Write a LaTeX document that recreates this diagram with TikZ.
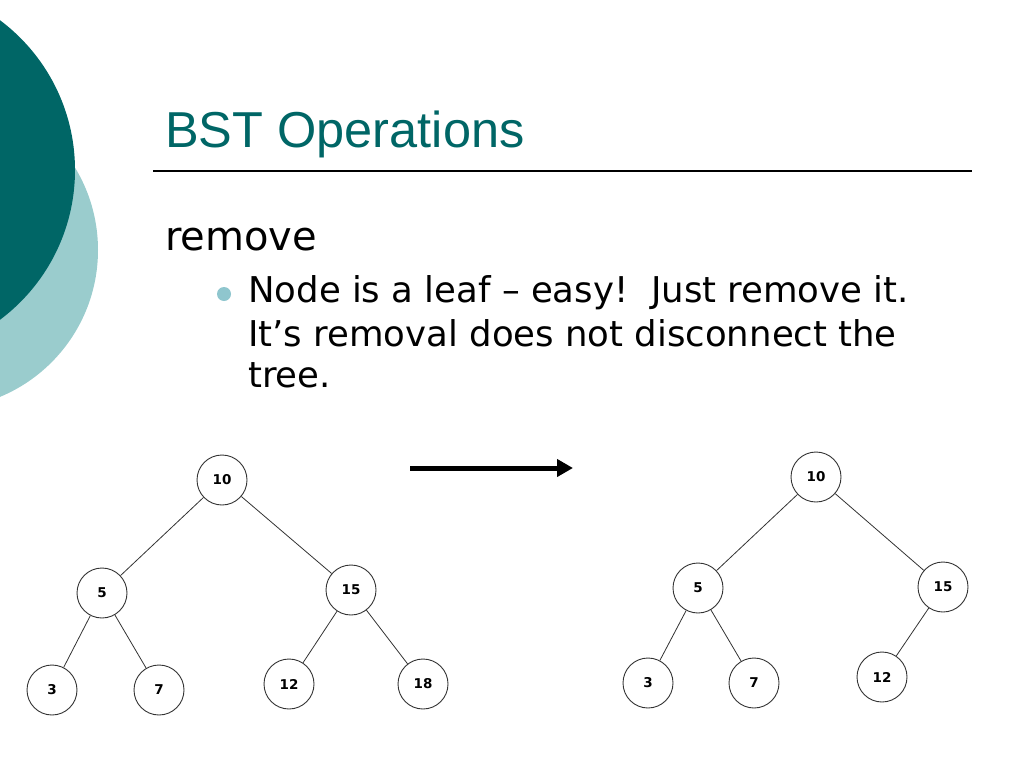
\documentclass[tikz,border=0pt]{standalone}
\usepackage{fontspec}
\setmainfont{DejaVu Sans}
\newfontfamily\titlefont{Liberation Sans}
\usepackage{tikz}
\usetikzlibrary{arrows.meta,positioning}
\definecolor{tealdark}{HTML}{006666}
\definecolor{teallight}{HTML}{9ACCCD}
\definecolor{bulletblue}{HTML}{8FC6CE}
\definecolor{inkgrey}{HTML}{333333}
\tikzset{
  treenode/.style = {circle, draw=inkgrey, line width=0.9pt, minimum size=50pt,
                     inner sep=0pt, font=\fontsize{13.5}{15}\selectfont\bfseries},
  treeedge/.style = {draw=inkgrey, line width=0.8pt},
  bodyline/.style = {anchor=base west, inner sep=0pt, font=\fontsize{35.5}{42}\selectfont},
  bigarrow/.style = {-{Triangle[length=16pt,width=17pt]}, line width=5pt},
}
\begin{document}
\begin{tikzpicture}[x=1pt,y=-1pt]
    \useasboundingbox (0,0) rectangle (1024,768);
    % decoration on the left
    \fill[teallight] (-61,250) circle (159);
    \fill[tealdark] (-112,170) circle (187);
    % heading
    \node[anchor=base west,inner sep=0pt,text=tealdark,font=\titlefont\fontsize{50.5}{60}\selectfont] (title) at (165,147) {BST Operations};
    \draw[line width=1.2pt] (153,171) -- (972,171);
    \node[anchor=base west,inner sep=0pt,font=\fontsize{40}{48}\selectfont] (op) at (165,250) {remove};
    \fill[bulletblue] (224,294) circle (7);
    \node[bodyline] (ln1) at (248,302) {Node is a leaf -- easy!\ \ Just remove it.};
    \node[bodyline] (ln2) at (248,346) {It’s removal does not disconnect the};
    \node[bodyline] (ln3) at (248,387) {tree.};
    % tree before
    \node[treenode] (a10) at (222,480) {10};
    \node[treenode] (a5)  at (102,593) {5};
    \node[treenode] (a15) at (351,590) {15};
    \node[treenode] (a3)  at (52,690)  {3};
    \node[treenode] (a7)  at (159,690) {7};
    \node[treenode] (a12) at (289,684) {12};
    \node[treenode] (a18) at (423,684) {18};
    \draw[treeedge] (a10) -- (a5);  \draw[treeedge] (a10) -- (a15);
    \draw[treeedge] (a5) -- (a3);   \draw[treeedge] (a5) -- (a7);
    \draw[treeedge] (a15) -- (a12); \draw[treeedge] (a15) -- (a18);
    % arrow between
    \coordinate (arrfrom) at (410,468);
    \coordinate (arrto) at (573,468);
    \draw[bigarrow] (arrfrom) -- (arrto);
    % tree after
    \node[treenode] (b10) at (816,477) {10};
    \node[treenode] (b5)  at (698,588) {5};
    \node[treenode] (b15) at (943,587) {15};
    \node[treenode] (b3)  at (648,683) {3};
    \node[treenode] (b7)  at (754,683) {7};
    \node[treenode] (b12) at (882,677) {12};
    \draw[treeedge] (b10) -- (b5);  \draw[treeedge] (b10) -- (b15);
    \draw[treeedge] (b5) -- (b3);   \draw[treeedge] (b5) -- (b7);
    \draw[treeedge] (b15) -- (b12);
\end{tikzpicture}
\end{document}
